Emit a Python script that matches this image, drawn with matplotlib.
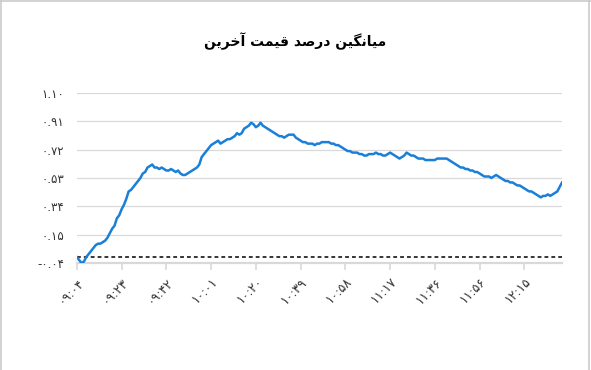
import matplotlib
matplotlib.use("Agg")
import matplotlib.pyplot as plt
from matplotlib.lines import Line2D

# average last-price percent, one value per traded minute from 09:04
values = [
    0.00, -0.02, -0.04, -0.03, 0.00, 0.02, 0.04, 0.06, 0.08, 0.09,
    0.09, 0.10, 0.11, 0.13, 0.16, 0.19, 0.21, 0.26, 0.28, 0.32,
    0.35, 0.39, 0.44, 0.45, 0.47, 0.49, 0.51, 0.53, 0.56, 0.57,
    0.60, 0.61, 0.62, 0.60, 0.60, 0.59, 0.60, 0.59, 0.58, 0.58,
    0.59, 0.58, 0.57, 0.58, 0.56, 0.55, 0.55, 0.56, 0.57, 0.58,
    0.59, 0.60, 0.62, 0.67, 0.69, 0.71, 0.73, 0.75, 0.76, 0.77,
    0.78, 0.76, 0.77, 0.78, 0.79, 0.79, 0.80, 0.81, 0.83, 0.82,
    0.83, 0.86, 0.87, 0.88, 0.90, 0.89, 0.87, 0.88, 0.90, 0.88,
    0.87, 0.86, 0.85, 0.84, 0.83, 0.82, 0.81, 0.81, 0.80, 0.81,
    0.82, 0.82, 0.82, 0.80, 0.79, 0.78, 0.77, 0.77, 0.76, 0.76,
    0.76, 0.75, 0.76, 0.76, 0.77, 0.77, 0.77, 0.77, 0.76, 0.76,
    0.75, 0.75, 0.74, 0.73, 0.72, 0.71, 0.71, 0.70, 0.70, 0.70,
    0.69, 0.69, 0.68, 0.68, 0.69, 0.69, 0.69, 0.70, 0.69, 0.69,
    0.68, 0.68, 0.69, 0.70, 0.69, 0.68, 0.67, 0.66, 0.67, 0.68,
    0.70, 0.69, 0.68, 0.68, 0.67, 0.66, 0.66, 0.66, 0.65, 0.65,
    0.65, 0.65, 0.65, 0.66, 0.66, 0.66, 0.66, 0.66, 0.65, 0.64,
    0.63, 0.62, 0.61, 0.60, 0.60, 0.59, 0.59, 0.58, 0.58, 0.57,
    0.57, 0.56, 0.55, 0.54, 0.54, 0.54, 0.53, 0.54, 0.55, 0.54,
    0.53, 0.52, 0.51, 0.51, 0.50, 0.50, 0.49, 0.48, 0.48, 0.47,
    0.46, 0.45, 0.44, 0.44, 0.43, 0.42, 0.41, 0.40, 0.41, 0.41,
    0.42, 0.41, 0.42, 0.43, 0.44, 0.47, 0.50,
]

x_tick_labels = ["۰۹:۰۴", "۰۹:۲۳", "۰۹:۴۲", "۱۰:۰۱", "۱۰:۲۰", "۱۰:۳۹",
                 "۱۰:۵۸", "۱۱:۱۷", "۱۱:۳۶", "۱۱:۵۶", "۱۲:۱۵"]
tick_step = 19

y_ticks = [-0.04, 0.15, 0.34, 0.53, 0.72, 0.91, 1.10]
y_tick_labels = ["-۰.۰۴", "۰.۱۵", "۰.۳۴", "۰.۵۳", "۰.۷۲", "۰.۹۱", "۱.۱۰"]

# "میانگین درصد قیمت آخرین" already shaped into presentation forms, visual order
title = ("\uFEE6\uFEF3\uFEAE\uFEA7\uFE81 "
         "\uFE96\uFEE4\uFEF4\uFED7 "
         "\uFEAA\uFEBB\uFEAD\uFEA9 "
         "\uFEE6\uFEF4\uFB95\uFEE7\uFE8E\uFEF4\uFEE3")

grid_col = "#d9d9d9"

fig = plt.figure(figsize=(5.91, 3.70), dpi=100)
ax = fig.add_axes([0.130, 0.289, 0.821, 0.460])

x = list(range(len(values)))
ax.plot(x, values, color="#1a7fd8", linewidth=1.8, zorder=3)
ax.axhline(0, color="black", linestyle=(0, (2.5, 2)), linewidth=1.1, zorder=2)

ax.set_xlim(0, len(values) - 1)
ax.set_ylim(y_ticks[0], y_ticks[-1])

ax.set_yticks(y_ticks)
ax.set_yticklabels(y_tick_labels, fontsize=8.5, color="#333333")
ax.tick_params(axis="y", length=0, pad=9)

ax.set_xticks([i * tick_step for i in range(len(x_tick_labels))])
ax.set_xticklabels(x_tick_labels, fontsize=9, color="#333333",
                   rotation=45, ha="right", rotation_mode="anchor")
ax.tick_params(axis="x", length=5, width=1.2, color=grid_col, pad=4)

ax.grid(axis="y", color=grid_col, linewidth=0.9)
ax.set_axisbelow(True)
for side in ["top", "right", "left"]:
    ax.spines[side].set_visible(False)
ax.spines["bottom"].set_color(grid_col)
ax.spines["bottom"].set_linewidth(1.6)

fig.text(0.5, 0.888, title, ha="center", va="center", fontsize=10,
         fontweight="bold", family=["DejaVu Sans"])

# light frame around the chart
for xs, ys in [([0.002, 0.002], [0, 1]), ([0, 1], [0.996, 0.996]), ([0.996, 0.996], [0, 1])]:
    fig.add_artist(Line2D(xs, ys, transform=fig.transFigure, color="#cccccc", linewidth=1.2))

fig.savefig("out.png", dpi=100)
